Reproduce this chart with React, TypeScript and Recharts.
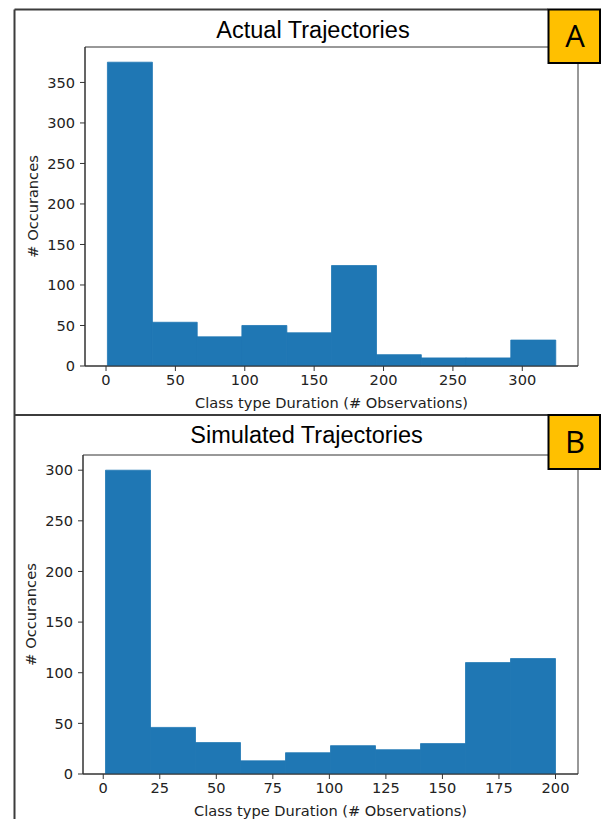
import React from 'react';
import { BarChart, Bar, XAxis, YAxis, ReferenceArea } from 'recharts';

// Histogram bins (edges) and counts for each panel
const actualEdges = [1, 33.3, 65.6, 97.9, 130.2, 162.5, 194.8, 227.1, 259.4, 291.7, 324];
const actualCounts = [375, 54, 36, 50, 41, 124, 14, 10, 10, 32];
const actualXTicks = [0, 50, 100, 150, 200, 250, 300];
const actualYTicks = [0, 50, 100, 150, 200, 250, 300, 350];

const simulatedEdges = [1, 20.9, 40.8, 60.7, 80.6, 100.5, 120.4, 140.3, 160.2, 180.1, 200];
const simulatedCounts = [300, 46, 31, 13, 21, 28, 24, 30, 110, 114];
const simulatedXTicks = [0, 25, 50, 75, 100, 125, 150, 175, 200];
const simulatedYTicks = [0, 50, 100, 150, 200, 250, 300];

const BAR_COLOR = '#1f77b4';
const SPINE = '#333';
const TEXT = '#222';
const MPL_FONT = '"DejaVu Sans", sans-serif';
const FONT_SIZE = 14.6;

interface HistProps {
  edges: number[];
  counts: number[];
  xTicks: number[];
  yTicks: number[];
  height: number;
  plotTop: number;
  yAxisWidth: number;
  xAxisHeight: number;
  yLabelX: number;
}

const Histogram: React.FC<HistProps> = ({
  edges, counts, xTicks, yTicks, height, plotTop, yAxisWidth, xAxisHeight, yLabelX,
}) => {
  const data = counts.map((count, i) => ({ mid: (edges[i] + edges[i + 1]) / 2, count }));
  // matplotlib-style 5% margins on x, sticky zero on y
  const lo = edges[0];
  const hi = edges[edges.length - 1];
  const pad = (hi - lo) * 0.05;
  const xDomain: [number, number] = [lo - pad, hi + pad];
  const yMax = Math.max(...counts) * 1.05;

  const xLabel = ({ viewBox }: any) => (
    <text
      x={viewBox.x + viewBox.width / 2}
      y={viewBox.y + 36}
      textAnchor="middle"
      dominantBaseline="central"
      fontSize={FONT_SIZE}
      fill={TEXT}
      fontFamily={MPL_FONT}
    >
      Class type Duration (# Observations)
    </text>
  );

  const yLabel = ({ viewBox }: any) => {
    const cx = viewBox.x + yLabelX;
    const cy = viewBox.y + viewBox.height / 2;
    return (
      <text
        x={cx}
        y={cy}
        transform={`rotate(-90 ${cx} ${cy})`}
        textAnchor="middle"
        dominantBaseline="central"
        fontSize={FONT_SIZE}
        fill={TEXT}
        fontFamily={MPL_FONT}
      >
        # Occurances
      </text>
    );
  };

  return (
    <BarChart
      width={601}
      height={height}
      data={data}
      margin={{ top: plotTop, right: 23, bottom: 0, left: 0 }}
      barCategoryGap={0}
      barGap={0}
      style={{ fontFamily: MPL_FONT }}
    >
      <XAxis
        dataKey="mid"
        type="number"
        domain={xDomain}
        ticks={xTicks}
        allowDataOverflow
        height={xAxisHeight}
        stroke={SPINE}
        tickSize={5}
        tickMargin={4}
        tick={{ fontSize: FONT_SIZE, fill: TEXT }}
        label={{ content: xLabel }}
      />
      <YAxis
        type="number"
        domain={[0, yMax]}
        ticks={yTicks}
        allowDataOverflow
        width={yAxisWidth}
        stroke={SPINE}
        tickSize={5}
        tickMargin={5}
        tick={{ fontSize: FONT_SIZE, fill: TEXT }}
        label={{ content: yLabel }}
      />
      <Bar
        dataKey="count"
        fill={BAR_COLOR}
        stroke={BAR_COLOR}
        strokeWidth={0.8}
        isAnimationActive={false}
      />
      <ReferenceArea
        x1={xDomain[0]}
        x2={xDomain[1]}
        y1={0}
        y2={yMax}
        fill="none"
        stroke={SPINE}
        strokeWidth={1}
      />
    </BarChart>
  );
};

const PanelTag: React.FC<{ y: number; h: number; letter: string }> = ({ y, h, letter }) => (
  <g>
    <rect x={548.5} y={y} width={51.5} height={h} fill="#ffc000" stroke="#000" strokeWidth={2} />
    <text
      x={575}
      y={y + h / 2 + 11}
      textAnchor="middle"
      fontSize={31}
      fill="#000"
      fontFamily='"Open Sans", "Noto Sans", sans-serif'
    >
      {letter}
    </text>
  </g>
);

export default function App() {
  return (
    <div style={{ position: 'absolute', left: 0, top: 0, width: 601, height: 819, background: '#fff' }}>
      <div style={{ position: 'absolute', left: 0, top: 0 }}>
        <Histogram
          edges={actualEdges}
          counts={actualCounts}
          xTicks={actualXTicks}
          yTicks={actualYTicks}
          height={415}
          plotTop={47}
          yAxisWidth={85}
          xAxisHeight={49}
          yLabelX={32}
        />
      </div>
      <div style={{ position: 'absolute', left: 0, top: 415 }}>
        <Histogram
          edges={simulatedEdges}
          counts={simulatedCounts}
          xTicks={simulatedXTicks}
          yTicks={simulatedYTicks}
          height={404}
          plotTop={40}
          yAxisWidth={83}
          xAxisHeight={45}
          yLabelX={30}
        />
      </div>
      <svg
        width={601}
        height={819}
        style={{ position: 'absolute', left: 0, top: 0, pointerEvents: 'none' }}
      >
        <line x1={14.5} y1={9.5} x2={14.5} y2={819} stroke="#3c3c3c" strokeWidth={2} />
        <line x1={14.5} y1={9.5} x2={548} y2={9.5} stroke="#3c3c3c" strokeWidth={2} />
        <line x1={14.5} y1={415} x2={548} y2={415} stroke="#3c3c3c" strokeWidth={2} />
        <text
          x={313}
          y={38}
          textAnchor="middle"
          fontSize={23.5}
          fill="#000"
          fontFamily='"Liberation Sans", Arial, sans-serif'
        >
          Actual Trajectories
        </text>
        <text
          x={306.5}
          y={443}
          textAnchor="middle"
          fontSize={23.5}
          fill="#000"
          fontFamily='"Liberation Sans", Arial, sans-serif'
        >
          Simulated Trajectories
        </text>
        <PanelTag y={9.5} h={53.5} letter="A" />
        <PanelTag y={415} h={54} letter="B" />
      </svg>
    </div>
  );
}
